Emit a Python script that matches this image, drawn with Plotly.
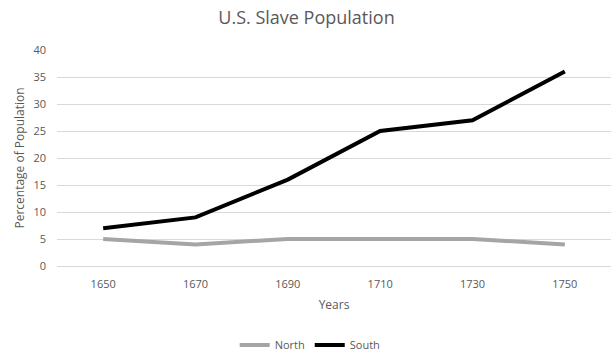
import plotly.graph_objects as go

years = ["1650", "1670", "1690", "1710", "1730", "1750"]
north = [5, 4, 5, 5, 5, 4]
south = [7, 9, 16, 25, 27, 36]

fig = go.Figure()
fig.add_trace(go.Scatter(x=years, y=north, name="North", mode="lines",
                         line=dict(color="#A5A5A5", width=4)))
fig.add_trace(go.Scatter(x=years, y=south, name="South", mode="lines",
                         line=dict(color="#000000", width=4)))

fig.update_layout(
    width=613, height=361,
    margin=dict(l=57, r=2, t=50, b=95),
    paper_bgcolor="white", plot_bgcolor="white",
    font=dict(family="Open Sans, Liberation Sans, sans-serif", color="#595959", size=11),
    title=dict(text="U.S. Slave Population", x=0.5, xanchor="center", y=0.95, yanchor="middle",
               font=dict(size=18, color="#595959")),
    xaxis=dict(type="category", range=[-0.5, 5.5], showgrid=False, showline=True,
               linecolor="#D9D9D9", ticks="", automargin=False, ticklabelstandoff=8,
               tickfont=dict(size=11, color="#595959"),
               title=dict(text="Years", font=dict(size=12, color="#595959"), standoff=10)),
    yaxis=dict(range=[0, 40], dtick=5, showgrid=True, gridcolor="#D9D9D9", zeroline=False,
               showline=False, ticks="", ticklabelstandoff=10, automargin=False,
               tickfont=dict(size=11, color="#595959"),
               title=dict(text="Percentage of Population", font=dict(size=12, color="#595959"),
                          standoff=6)),
    legend=dict(orientation="h", x=0.457, xanchor="center", y=-0.366, yanchor="middle",
                itemwidth=30, tracegroupgap=0,
                font=dict(size=11, color="#595959")),
    showlegend=True,
)

fig.write_html("out.html", config={"displayModeBar": False},
               post_script="document.body.style.margin='0';document.body.style.padding='0';")
